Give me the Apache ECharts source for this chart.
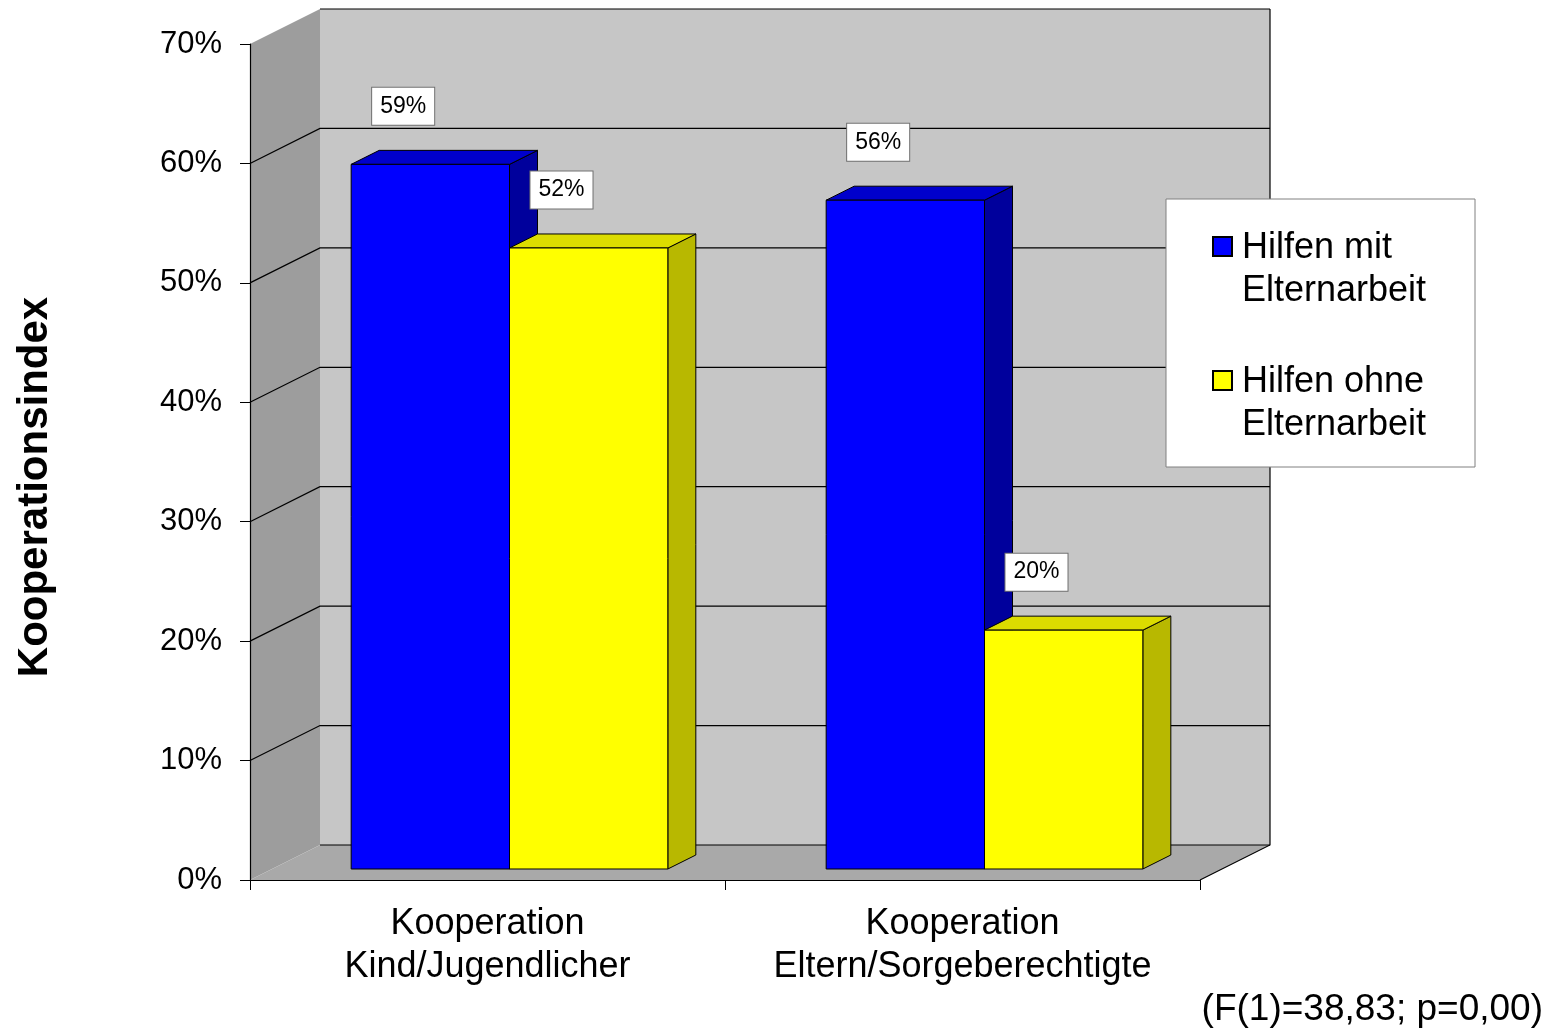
<!DOCTYPE html>
<html>
<head>
<meta charset="utf-8">
<title>Kooperationsindex</title>
<script src="https://cdn.jsdelivr.net/npm/echarts@6/dist/echarts.min.js"></script>
<style>
  html, body { margin: 0; padding: 0; background: #ffffff; }
  #chart { width: 1562px; height: 1030px; }
</style>
</head>
<body>
<div id="chart"></div>
<script>
// Categories, series and values
const categories = ['Kooperation\nKind/Jugendlicher', 'Kooperation\nEltern/Sorgeberechtigte'];
const seriesNames = ['Hilfen mit Elternarbeit', 'Hilfen ohne Elternarbeit'];
const withParentWork = [59, 56];
const withoutParentWork = [52, 20];
const yTicks = [0, 10, 20, 30, 40, 50, 60, 70];
const footnote = '(F(1)=38,83; p=0,00)';

// Pseudo-3D geometry (pixels)
const WALL_DX = 70, WALL_DY = -35;     // depth of the back wall
const BAR_DX = 22, BAR_DY = -11;       // bars stand a little behind the front plane
const DEPTH_DX = 28, DEPTH_DY = -14;   // thickness of each bar
const BAR_FRACTION = 1 / 3;            // bar width as share of a category band
const FONT = "'Liberation Sans', Arial, Helvetica, sans-serif";

const palettes = [
  { front: '#0000ff', top: '#0000cc', side: '#00009c' },
  { front: '#ffff00', top: '#dcdc00', side: '#b8b800' }
];

const yMin = yTicks[0];
const yMax = yTicks[yTicks.length - 1];

function plotFrame(api) {
  const c0 = api.coord([0, yMin]);
  const bw = api.size([1, 0])[0];
  const x0 = c0[0] - bw / 2;
  const x1 = x0 + bw * categories.length;
  const yBase = c0[1];
  const yTop = api.coord([0, yMax])[1];
  return { x0, x1, yBase, yTop, bw };
}

function renderWalls(params, api) {
  const f = plotFrame(api);
  const { x0, x1, yBase, yTop } = f;
  const children = [];
  // left side wall
  children.push({
    type: 'polygon',
    shape: { points: [[x0, yTop], [x0 + WALL_DX, yTop + WALL_DY], [x0 + WALL_DX, yBase + WALL_DY], [x0, yBase]] },
    style: { fill: '#9d9d9d' }
  });
  // floor
  children.push({
    type: 'polygon',
    shape: { points: [[x0, yBase], [x0 + WALL_DX, yBase + WALL_DY], [x1 + WALL_DX, yBase + WALL_DY], [x1, yBase]] },
    style: { fill: '#a9a9a9' }
  });
  // back wall
  children.push({
    type: 'rect',
    shape: { x: x0 + WALL_DX, y: yTop + WALL_DY, width: x1 - x0, height: yBase - yTop },
    style: { fill: '#c6c6c6' }
  });
  // gridlines running across the side wall and back wall
  yTicks.forEach(function (v) {
    const y = api.coord([0, v])[1];
    const pts = (v === yMin || v === yMax)
      ? [[x0 + WALL_DX, y + WALL_DY], [x1 + WALL_DX, y + WALL_DY]]
      : [[x0, y], [x0 + WALL_DX, y + WALL_DY], [x1 + WALL_DX, y + WALL_DY]];
    children.push({
      type: 'polyline',
      shape: { points: pts },
      style: { stroke: '#000000', lineWidth: 1.2, fill: null }
    });
  });
  // right edge of the back wall and floor
  children.push({
    type: 'polyline',
    shape: { points: [[x1 + WALL_DX, yTop + WALL_DY], [x1 + WALL_DX, yBase + WALL_DY], [x1, yBase]] },
    style: { stroke: '#000000', lineWidth: 1.2, fill: null }
  });
  return { type: 'group', children: children };
}

function makeBarRenderer(seriesIndex) {
  const pal = palettes[seriesIndex];
  return function (params, api) {
    const cat = api.value(0);
    const val = api.value(1);
    const f = plotFrame(api);
    const center = api.coord([cat, yMin])[0];
    const barW = f.bw * BAR_FRACTION;
    const xl = center + BAR_DX - barW + seriesIndex * barW;
    const xr = xl + barW;
    const yb = api.coord([cat, yMin])[1] + BAR_DY;
    const yt = api.coord([cat, val])[1] + BAR_DY;
    const edge = { stroke: '#000000', lineWidth: 1, lineJoin: 'round' };
    return {
      type: 'group',
      children: [
        {
          type: 'polygon',
          shape: { points: [[xr, yt], [xr + DEPTH_DX, yt + DEPTH_DY], [xr + DEPTH_DX, yb + DEPTH_DY], [xr, yb]] },
          style: Object.assign({ fill: pal.side }, edge)
        },
        {
          type: 'polygon',
          shape: { points: [[xl, yt], [xl + DEPTH_DX, yt + DEPTH_DY], [xr + DEPTH_DX, yt + DEPTH_DY], [xr, yt]] },
          style: Object.assign({ fill: pal.top }, edge)
        },
        {
          type: 'rect',
          shape: { x: xl, y: yt, width: barW, height: yb - yt },
          style: Object.assign({ fill: pal.front }, edge)
        },
        {
          type: 'text',
          x: xl + 52,
          y: yt - 58,
          style: {
            text: val + '%',
            font: '23px ' + FONT,
            fill: '#000000',
            align: 'center',
            verticalAlign: 'middle',
            backgroundColor: '#ffffff',
            borderColor: '#707070',
            borderWidth: 1,
            padding: [8, 8, 6, 8]
          }
        }
      ]
    };
  };
}

function wrapName(name) {
  const i = name.lastIndexOf(' ');
  return name.slice(0, i) + '\n' + name.slice(i + 1);
}

// Legend box: swatch beside the first line of each two-line entry
const LEGEND_X = 1166, LEGEND_Y = 199;
const legendElements = [
  {
    type: 'rect',
    zlevel: 1,
    z: 100,
    shape: { x: LEGEND_X, y: LEGEND_Y, width: 309, height: 268 },
    style: { fill: '#ffffff', stroke: '#808080', lineWidth: 1 }
  }
];
seriesNames.forEach(function (name, i) {
  const top = LEGEND_Y + 38 + i * 134;
  legendElements.push({
    type: 'rect',
    zlevel: 1,
    z: 101,
    shape: { x: LEGEND_X + 47, y: top, width: 19, height: 19 },
    style: { fill: palettes[i].front, stroke: '#000000', lineWidth: 2 }
  });
  legendElements.push({
    type: 'text',
    zlevel: 1,
    z: 101,
    x: LEGEND_X + 76,
    y: top + 11 - 21.5,
    style: {
      text: wrapName(name),
      font: '36px ' + FONT,
      fill: '#000000',
      lineHeight: 43,
      verticalAlign: 'top'
    }
  });
});

const chart = echarts.init(document.getElementById('chart'), null, { renderer: 'canvas' });

const option = {
  animation: false,
  backgroundColor: '#ffffff',
  textStyle: { fontFamily: FONT },
  grid: { left: 250, top: 44, width: 950, height: 836, containLabel: false, outerBoundsMode: 'none' },
  xAxis: {
    type: 'category',
    data: categories,
    axisLine: { show: true, lineStyle: { color: '#000000', width: 1.2 } },
    axisTick: { show: true, length: 10, lineStyle: { color: '#000000' } },
    axisLabel: { color: '#000000', fontSize: 36, lineHeight: 43, margin: 23, interval: 0, hideOverlap: false, fontFamily: FONT },
    splitLine: { show: false },
    z: 5
  },
  yAxis: {
    type: 'value',
    min: yMin,
    max: yMax,
    interval: 10,
    name: 'Kooperationsindex',
    nameLocation: 'middle',
    nameRotate: 90,
    nameGap: 194,
    nameTextStyle: { color: '#000000', fontSize: 42, fontWeight: 'bold', fontFamily: FONT, padding: [0, 50, 0, 0] },
    axisLine: { show: true, lineStyle: { color: '#000000', width: 1.2 } },
    axisTick: { show: true, length: 10, lineStyle: { color: '#000000' } },
    axisLabel: { color: '#000000', fontSize: 31, margin: 28, formatter: '{value}%', fontFamily: FONT },
    splitLine: { show: false },
    z: 5
  },
  series: [
    {
      type: 'custom',
      name: 'walls',
      renderItem: renderWalls,
      data: [[0, 0]],
      clip: false,
      silent: true,
      z: 0
    },
    {
      type: 'custom',
      name: seriesNames[0],
      renderItem: makeBarRenderer(0),
      data: withParentWork.map(function (v, i) { return [i, v]; }),
      clip: false,
      z: 2
    },
    {
      type: 'custom',
      name: seriesNames[1],
      renderItem: makeBarRenderer(1),
      data: withoutParentWork.map(function (v, i) { return [i, v]; }),
      clip: false,
      z: 3
    }
  ],
  graphic: legendElements.concat([
    {
      type: 'text',
      right: 19,
      top: 991,
      zlevel: 1,
      style: { text: footnote, font: '37px ' + FONT, fill: '#000000' }
    }
  ])
};

chart.setOption(option);
</script>
</body>
</html>
